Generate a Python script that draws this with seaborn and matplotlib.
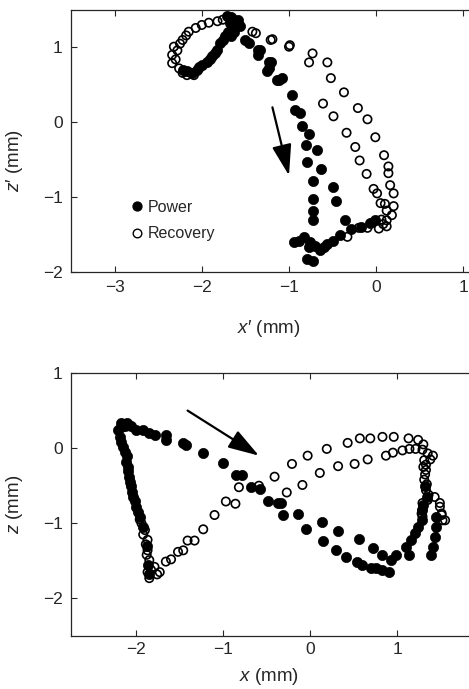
import matplotlib
matplotlib.use("Agg")
import matplotlib.pyplot as plt
from matplotlib.lines import Line2D
import pandas as pd
import seaborn as sns

# ---- body-frame trajectory (x', z'), mm ----
top_power_x = [-1.71, -1.66, -1.63, -1.58, -1.68, -1.60, -1.56, -1.65, -1.63, -1.67, -1.73, -1.70,
               -1.79, -1.76, -1.82, -1.85, -1.88, -1.94, -1.91, -2.00, -2.05, -2.11, -2.17, -2.22, -2.03,
               -1.50, -1.46, -1.36, -1.35, -1.23, -1.25, -1.14,
               -1.33, -1.21, -1.23, -1.12, -1.08, -0.96, -0.93, -0.87, -0.85, -0.77, -0.81, -0.68,
               -0.79, -0.63, -0.73, -0.50, -0.72, -0.46, -0.72, -0.36, -0.72, -0.94, -0.83, -0.77,
               -0.79, -0.73, -0.64, -0.56, -0.49, -0.41, -0.29, -0.18, -0.07, -0.01, -0.70, -0.60,
               -0.76, -0.88]
top_power_z = [1.42, 1.40, 1.37, 1.37, 1.33, 1.31, 1.28, 1.26, 1.21, 1.15, 1.15, 1.20,
               1.06, 1.10, 0.97, 0.93, 0.88, 0.81, 0.84, 0.77, 0.70, 0.66, 0.68, 0.70, 0.74,
               1.10, 1.06, 0.97, 0.90, 0.81, 0.68, 0.57,
               0.97, 0.81, 0.72, 0.57, 0.59, 0.36, 0.16, 0.12, -0.05, -0.16, -0.30, -0.37,
               -0.53, -0.63, -0.78, -0.86, -1.02, -1.05, -1.19, -1.30, -1.31, -1.60, -1.53, -1.67,
               -1.82, -1.85, -1.71, -1.62, -1.58, -1.51, -1.43, -1.40, -1.35, -1.31, -1.65, -1.66,
               -1.60, -1.58]

top_recovery_x = [-2.34, -2.32, -2.30, -2.28, -2.22, -2.25, -2.15, -2.18, -2.07, -2.00, -1.92, -1.82,
                  -1.76, -2.34, -2.26, -2.22, -2.17, -2.09, -2.13, -1.42, -1.38, -1.21, -1.19,
                  -1.00, -0.99, -0.73, -0.77, -0.56, -0.52, -0.37, -0.61, -0.21, -0.49, -0.10, -0.34,
                  -0.01, -0.24,
                  0.09, -0.19, 0.14, 0.14, -0.11, 0.16, -0.03, 0.20, 0.01, 0.05, 0.10, 0.20,
                  0.12, 0.18, 0.12, 0.12, 0.03, -0.10, -0.20, -0.33, 0.06, 0.08]
top_recovery_z = [0.90, 1.01, 0.84, 0.96, 1.10, 1.05, 1.21, 1.16, 1.26, 1.30, 1.33, 1.35,
                  1.37, 0.79, 0.72, 0.66, 0.63, 0.63, 0.66, 1.21, 1.19, 1.10, 1.11,
                  1.01, 1.03, 0.92, 0.80, 0.80, 0.59, 0.40, 0.25, 0.19, 0.08, 0.04, -0.14,
                  -0.20, -0.33,
                  -0.44, -0.51, -0.59, -0.68, -0.69, -0.84, -0.89, -0.95, -0.95, -1.08, -1.09, -1.12,
                  -1.18, -1.24, -1.31, -1.39, -1.42, -1.41, -1.41, -1.53, -1.30, -1.36]

# ---- lab-frame trajectory (x, z), mm ----
bottom_power_x = [-2.17, -2.21, -2.11, -2.06, -2.00, -1.92, -1.85, -1.79, -1.66, -1.66, -1.46, -1.43,
                  -1.23, -1.00, -0.85, -0.79, -0.68, -0.58, -0.49, -0.37,
                  -2.19, -2.15, -2.11, -2.10, -2.08, -2.06, -2.04, -2.00, -1.96, -2.13, -2.18,
                  -2.17, -2.13, -2.12, -2.09, -2.07, -2.05, -2.02, -1.98,
                  -1.92, -1.88, -1.86, -1.85,
                  -0.34, -0.31, -0.14, -0.05, 0.13, 0.15, 0.32, 0.30, 0.56, 0.41, 0.54, 0.60,
                  0.72, 0.70, 0.76, 0.83, 0.91, 0.82, 0.93, 0.99, 1.14, 1.10, 1.16, 1.20,
                  1.24, 1.28, 1.29, 1.39, 1.41, 1.43, 1.45, 1.45, 1.32, 1.34, 1.30]
bottom_power_z = [0.33, 0.24, 0.33, 0.29, 0.24, 0.24, 0.20, 0.18, 0.18, 0.11, 0.07, 0.04,
                  -0.06, -0.20, -0.36, -0.36, -0.52, -0.55, -0.71, -0.73,
                  0.15, 0.02, -0.11, -0.25, -0.38, -0.51, -0.65, -0.78, -0.91, 0.30, 0.28,
                  0.08, -0.05, -0.18, -0.31, -0.45, -0.58, -0.71, -0.85,
                  -1.05, -1.30, -1.55, -1.68,
                  -0.73, -0.89, -0.87, -1.08, -0.98, -1.23, -1.10, -1.36, -1.21, -1.45, -1.51, -1.56,
                  -1.33, -1.60, -1.60, -1.62, -1.65, -1.42, -1.49, -1.42, -1.42, -1.31, -1.22, -1.13,
                  -1.05, -0.96, -0.82, -1.42, -1.31, -1.18, -1.05, -0.91, -0.50, -0.65, -0.75]

bottom_recovery_x = [-1.94, -1.90, -1.87, -1.87, -1.85, -1.87, -1.85, -1.79, -1.73, -1.66, -1.60,
                     -1.52, -1.46, -1.41, -1.33, -1.23, -1.10, -0.97, -0.86, -0.82, -0.59, -0.41,
                     -1.96, -1.92, -1.89, -1.88, -1.83, -1.76,
                     -0.27, -0.21, -0.09, -0.03, 0.11, 0.19, 0.32, 0.43, 0.51, 0.57, 0.69, 0.66,
                     0.83, 0.96, 0.87, 0.95, 1.06, 1.14, 1.21, 1.13, 1.24,
                     1.29, 1.35, 1.41, 1.31, 1.33, 1.31, 1.33, 1.35, 1.29, 1.29, 1.43, 1.49,
                     1.51, 1.52, 1.29, 1.28, 1.49, 1.51, 1.55, 1.30, 1.33, 1.32, 1.34, 1.36,
                     1.30, 1.38]
bottom_recovery_z = [-1.00, -1.09, -1.22, -1.36, -1.49, -1.65, -1.73, -1.58, -1.65, -1.51, -1.48,
                     -1.38, -1.36, -1.23, -1.23, -1.08, -0.89, -0.71, -0.74, -0.52, -0.50, -0.38,
                     -0.95, -1.15, -1.28, -1.42, -1.62, -1.68,
                     -0.59, -0.21, -0.49, -0.10, -0.33, -0.01, -0.24, 0.07, -0.21, 0.13, 0.13, -0.15,
                     0.15, 0.15, -0.10, -0.06, -0.03, -0.01, -0.01, 0.13, 0.11,
                     -0.02, -0.07, -0.10, -0.16, -0.29, -0.42, -0.56, -0.69, -0.82, -0.91, -0.65, -0.73,
                     -0.87, -0.96, -0.73, -0.87, -0.78, -0.89, -0.96, 0.05, -0.22, -0.35, -0.48, -0.62,
                     -0.25, -0.15]

# arrows showing direction of the power stroke (tail, head)
top_arrow = [(-1.19, 0.20), (-1.00, -0.71)]
bottom_arrow = [(-1.41, 0.50), (-0.59, -0.10)]

sns.set_theme(style="white")
plt.rcParams["font.family"] = ["Liberation Sans", "DejaVu Sans"]
plt.rcParams["mathtext.fontset"] = "custom"
plt.rcParams["mathtext.it"] = "Liberation Sans:italic"
plt.rcParams["mathtext.rm"] = "Liberation Sans"

INK = "#262626"
W, H = 469, 689
AX_W = 404  # axes run slightly past the right edge of the canvas
fig = plt.figure(figsize=(W / 100, H / 100), dpi=100)
ax_top = fig.add_axes([71 / W, (H - 272) / H, AX_W / W, 262 / H])
ax_bot = fig.add_axes([71 / W, (H - 636) / H, AX_W / W, 263 / H])


def draw_panel(ax, px, pz, rx, rz, arrow):
    power = pd.DataFrame({"x": px, "z": pz})
    recovery = pd.DataFrame({"x": rx, "z": rz})
    sns.scatterplot(data=power, x="x", y="z", ax=ax, marker="o", s=54,
                    color="black", edgecolor="black", linewidth=0.5,
                    legend=False, zorder=3)
    sns.scatterplot(data=recovery, x="x", y="z", ax=ax, marker="o", s=36,
                    facecolors="none", edgecolor="black", linewidth=1.2,
                    legend=False, zorder=4)
    ax.annotate("", xy=arrow[1], xytext=arrow[0],
                arrowprops=dict(arrowstyle="-|>,head_length=1.9,head_width=0.6",
                                mutation_scale=10, color="black", lw=1.6,
                                shrinkA=0, shrinkB=0))
    for side in ax.spines.values():
        side.set_color(INK)
        side.set_linewidth(0.9)
    ax.tick_params(direction="in", bottom=True, left=True, top=True, right=True,
                   length=4, width=0.8, color=INK, labelcolor=INK, labelsize=12.5)
    ax.tick_params(axis="y", pad=6)


draw_panel(ax_top, top_power_x, top_power_z, top_recovery_x, top_recovery_z, top_arrow)
ax_top.set_xlim(-3.5, -3.5 + AX_W / 87.2)
ax_top.set_ylim(-2, 1.5)
ax_top.set_xticks([-3, -2, -1, 0, 1])
ax_top.set_yticks([-2, -1, 0, 1])
ax_top.tick_params(axis="x", pad=6)
ax_top.set_xlabel("$x$′ (mm)", fontsize=13.5, color=INK)
ax_top.set_ylabel("$z$′ (mm)", fontsize=13.5, color=INK)
ax_top.xaxis.set_label_coords((269 - 71) / AX_W, -0.175)
ax_top.yaxis.set_label_coords(-46 / AX_W, 0.427)

handles = [
    Line2D([], [], ls="none", marker="o", markersize=6.4, markerfacecolor="black",
           markeredgecolor="black", label="Power"),
    Line2D([], [], ls="none", marker="o", markersize=6.2, markerfacecolor="none",
           markeredgecolor="black", markeredgewidth=1.0, label="Recovery"),
]
ax_top.legend(handles=handles, loc="center left",
              bbox_to_anchor=((131 - 71) / AX_W, 0.197),
              frameon=False, fontsize=11.5, handlelength=0.7, handletextpad=0.35,
              labelspacing=0.72, borderpad=0, borderaxespad=0, labelcolor=INK)

draw_panel(ax_bot, bottom_power_x, bottom_power_z, bottom_recovery_x, bottom_recovery_z, bottom_arrow)
ax_bot.set_xlim(-2.75, -2.75 + AX_W / 87.0)
ax_bot.set_ylim(-2.5, 1)
ax_bot.set_xticks([-2, -1, 0, 1])
ax_bot.set_yticks([-2, -1, 0, 1])
ax_bot.tick_params(axis="x", pad=4)
ax_bot.set_xlabel("$x$ (mm)", fontsize=13.5, color=INK)
ax_bot.set_ylabel("$z$ (mm)", fontsize=13.5, color=INK)
ax_bot.xaxis.set_label_coords((269 - 71) / AX_W, -0.115)
ax_bot.yaxis.set_label_coords(-46 / AX_W, 0.5)

fig.savefig("out.png", dpi=100)
